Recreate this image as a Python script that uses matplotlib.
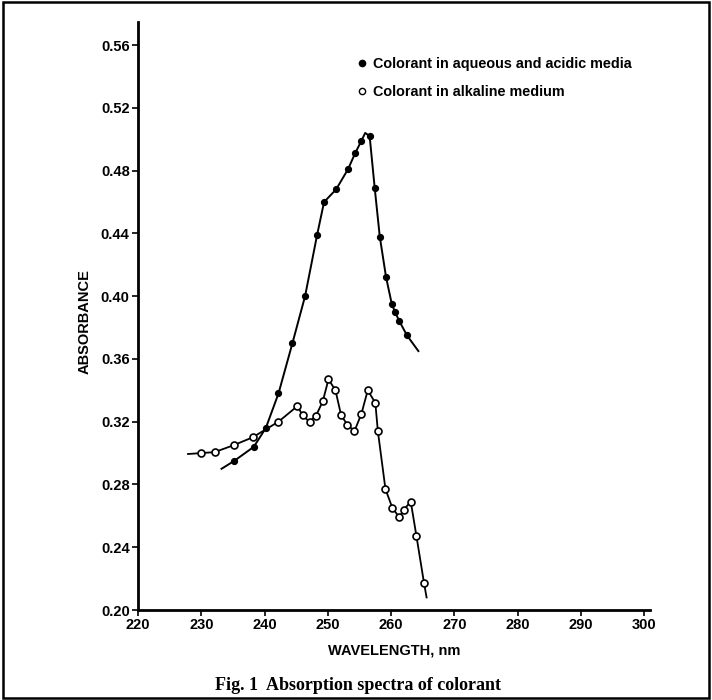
import matplotlib.pyplot as plt
from matplotlib.lines import Line2D
from matplotlib.patches import Rectangle

# colorant in aqueous and acidic media (filled dots)
acid_wl = [235.2, 238.3, 240.2, 242.2, 244.4, 246.4, 248.3, 249.4, 251.3, 253.2,
           254.3, 255.3, 256.6, 257.4, 258.2, 259.2, 260.1, 260.6, 261.3, 262.5]
acid_abs = [0.295, 0.304, 0.316, 0.338, 0.370, 0.400, 0.439, 0.460, 0.468, 0.481,
            0.491, 0.499, 0.502, 0.469, 0.438, 0.412, 0.395, 0.390, 0.384, 0.375]
# hand drawn curve: start, peak and end
acid_start = (233.2, 0.290)
acid_peak = (255.9, 0.504)
acid_end = (264.3, 0.365)

# colorant in alkaline medium (open dots)
alk_wl = [230.0, 232.1, 235.1, 238.1, 242.2, 245.2, 246.0, 247.1, 248.1, 249.2,
          250.1, 251.2, 252.1, 253.1, 254.2, 255.3, 256.3, 257.5, 257.9, 259.1,
          260.2, 261.3, 262.0, 263.1, 264.0, 265.2]
alk_abs = [0.300, 0.3006, 0.305, 0.310, 0.320, 0.330, 0.324, 0.320, 0.3236, 0.333,
           0.347, 0.340, 0.324, 0.318, 0.314, 0.325, 0.340, 0.332, 0.314, 0.277,
           0.265, 0.259, 0.264, 0.269, 0.247, 0.217]
alk_start = (227.9, 0.2994)
alk_end = (265.6, 0.208)

x_ticks = [220, 230, 240, 250, 260, 270, 280, 290, 300]
y_ticks = [0.20, 0.24, 0.28, 0.32, 0.36, 0.40, 0.44, 0.48, 0.52, 0.56]

plt.rcParams['font.family'] = ['Liberation Sans', 'DejaVu Sans']

fig = plt.figure(figsize=(7.12, 7.00), dpi=100)
ax = fig.add_axes([138 / 712, 1 - 610 / 700, 512 / 712, 588 / 700])

# curves
cx = [acid_start[0]] + acid_wl[:12] + [acid_peak[0]] + acid_wl[12:] + [acid_end[0]]
cy = [acid_start[1]] + acid_abs[:12] + [acid_peak[1]] + acid_abs[12:] + [acid_end[1]]
ax.plot(cx, cy, color='black', lw=1.4, solid_joinstyle='round')
ax.plot(acid_wl, acid_abs, 'o', color='black', ms=4.2, ls='none')

ox = [alk_start[0]] + alk_wl + [alk_end[0]]
oy = [alk_start[1]] + alk_abs + [alk_end[1]]
ax.plot(ox, oy, color='black', lw=1.3, solid_joinstyle='round')
ax.plot(alk_wl, alk_abs, 'o', mfc='white', mec='black', mew=1.2, ms=5.0, ls='none')

ax.set_xlim(220, 300.9)
ax.set_ylim(0.20, 0.5747)
ax.set_xticks(x_ticks)
ax.set_xticklabels([str(v) for v in x_ticks], fontweight='bold', fontsize=10.5)
ax.set_yticks(y_ticks)
ax.set_yticklabels(['%.2f' % v for v in y_ticks], fontweight='bold', fontsize=10.5)
ax.tick_params(direction='out', length=4, width=1.2, pad=2)

for side in ['top', 'right']:
    ax.spines[side].set_visible(False)
for side in ['left', 'bottom']:
    ax.spines[side].set_linewidth(2)

ax.set_xlabel('WAVELENGTH, nm', fontweight='bold', fontsize=10.5, labelpad=8)
fig.text(85 / 712, 1 - 322 / 700, 'ABSORBANCE', rotation=90, fontweight='bold',
         fontsize=10.5, ha='center', va='center')

handles = [
    Line2D([], [], marker='o', color='black', ms=4.5, ls='none'),
    Line2D([], [], marker='o', mfc='white', mec='black', mew=1.0, ms=4.5, ls='none'),
]
labels = ['Colorant in aqueous and acidic media', 'Colorant in alkaline medium']
leg = ax.legend(handles, labels, loc='upper left', bbox_to_anchor=(350 / 712, 1 - 50 / 700),
                bbox_transform=fig.transFigure, frameon=False, handlelength=0.6,
                handletextpad=0.5, labelspacing=0.95, borderpad=0,
                prop={'weight': 'bold', 'size': 10.4})

fig.text(358 / 712, 1 - 685 / 700, 'Fig. 1  Absorption spectra of colorant',
         family='Liberation Serif', fontweight='bold', fontsize=13, ha='center', va='center')

fig.patches.append(Rectangle((3 / 712, 2 / 700), 706 / 712, 696 / 700, transform=fig.transFigure,
                             fill=False, lw=1.8, edgecolor='black'))

fig.savefig('out.png', dpi=100)
plt.close(fig)
